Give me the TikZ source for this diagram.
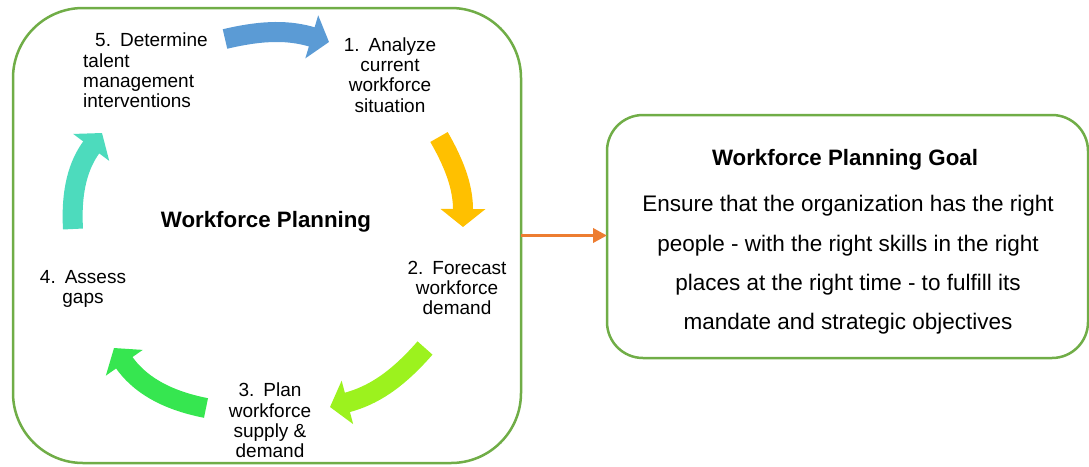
\documentclass[tikz,border=0pt]{standalone}
\usepackage{fontspec}
\setmainfont{Liberation Sans}
\usetikzlibrary{arrows.meta}
\definecolor{boxgreen}{HTML}{70AD47}
\definecolor{cblue}{HTML}{5B9BD5}
\definecolor{corange}{HTML}{FFC000}
\definecolor{clime}{HTML}{9CF21E}
\definecolor{cgreen}{HTML}{36E650}
\definecolor{cteal}{HTML}{4DDBBD}
\definecolor{conn}{HTML}{ED7D31}
\newcommand{\numgap}{\hspace{9pt}}
\tikzset{
  bigbox/.style={draw=boxgreen, line width=2.5pt, rectangle, outer sep=0pt, inner sep=0pt},
  steplabel/.style={font=\fontsize{19}{20.4}\selectfont, inner sep=0pt},
  cyclearrow/.style={line width=20pt, line cap=butt, -{Triangle[width=44pt,length=18pt]}},
  titletext/.style={font=\bfseries\fontsize{22.3}{26}\selectfont, inner sep=0pt},
  bodytext/.style={font=\fontsize{22.5}{39.4}\selectfont, inner sep=0pt, align=center}
}
\begin{document}
\begin{tikzpicture}[x=1pt,y=1pt]
\useasboundingbox (0,0) rectangle (1089,-466);
% boxes
\node[bigbox, minimum width=508pt, minimum height=455pt, rounded corners=70pt] (left) at (267,-235.5) {};
\node[bigbox, minimum width=481pt, minimum height=243pt, rounded corners=36pt] (right) at (847.5,-236.5) {};
% connector
\draw[conn, line width=3.5pt, -{Triangle[width=14pt,length=14pt]}] (left.east) -- (left.east -| right.west);
% texts in left box
\node[titletext] (wp) at (266,-222) {Workforce Planning};
\node[steplabel, align=left, anchor=west] (s5) at (83,-70.5) {\hspace*{12pt}5.\numgap Determine\\talent\\management\\interventions};
\node[steplabel, align=center] (s1) at (390,-75) {1.\numgap Analyze\\current\\workforce\\situation};
\node[steplabel, align=center] (s2) at (457,-288) {2.\numgap Forecast\\workforce\\demand};
\node[steplabel, align=center] (s3) at (270,-420.5) {3.\numgap Plan\\workforce\\supply \&\\demand};
\node[steplabel, align=center] (s4) at (83,-289) {4.\numgap Assess\\gaps};
% texts in right box
\node[titletext] (goal) at (845,-160) {Workforce Planning Goal};
\node[bodytext] (body) at (848,-265) {Ensure that the organization has the right\\people - with the right skills in the right\\places at the right time - to fulfill its\\mandate and strategic objectives};
% cycle arrows
\coordinate (a5s) at (225,-39);  \coordinate (a5e) at (329,-42);
\coordinate (a1s) at (439,-137); \coordinate (a1e) at (463,-227);
\coordinate (a2s) at (425,-348); \coordinate (a2e) at (330,-407);
\coordinate (a3s) at (206,-408); \coordinate (a3e) at (114,-348);
\coordinate (a4s) at (73,-229);  \coordinate (a4e) at (102,-133);
\draw[cyclearrow, cblue] (a5s) to[bend left=15] (a5e);
\draw[cyclearrow, corange] (a1s) to[bend left=15] (a1e);
\draw[cyclearrow, clime] (a2s) to[bend left=17] (a2e);
\draw[cyclearrow, cgreen] (a3s) to[bend left=22] (a3e);
\draw[cyclearrow, cteal] (a4s) to[bend left=20] (a4e);
\end{tikzpicture}
\end{document}
